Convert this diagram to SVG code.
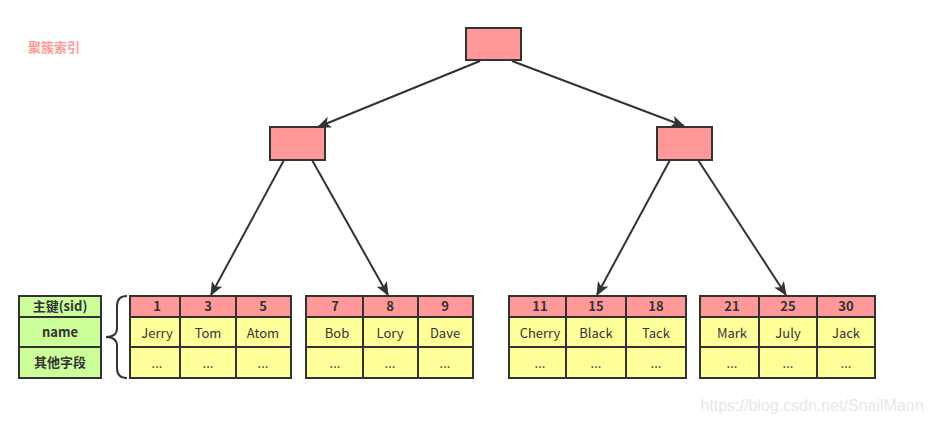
<svg xmlns="http://www.w3.org/2000/svg" width="932" height="423" viewBox="0 0 932 423">
<defs>
<marker id="ah" viewBox="0 0 12 10" refX="11" refY="5" markerWidth="7" markerHeight="6" markerUnits="strokeWidth" orient="auto">
<path d="M0,0 L12,5 L0,10 L3,5 Z" fill="#333"/>
</marker>
<style>
.box{fill:#FF9999;stroke:#333;stroke-width:2}
.hd{fill:#FF9999;stroke:#333;stroke-width:2}
.yl{fill:#FFFF99;stroke:#333;stroke-width:2}
.gr{fill:#CCFF99;stroke:#333;stroke-width:2}
.edge{stroke:#333;stroke-width:2;fill:none;marker-end:url(#ah)}
text{font-family:"Microsoft YaHei","Noto Sans CJK SC","Liberation Sans",sans-serif;fill:#333;text-anchor:middle;font-size:13px}
.b{font-weight:bold}
</style>
</defs>
<rect width="932" height="423" fill="#fff"/>
<text x="54" y="52" class="b" style="fill:#FF9999;font-size:13px">聚簇索引</text>
<g id="root"><rect class="box" x="466" y="28" width="55" height="32"/></g>
<g id="mid-left"><rect class="box" x="270" y="127" width="55" height="33"/></g>
<g id="mid-right"><rect class="box" x="657" y="127" width="55" height="33"/></g>
<g id="connectors">
<line class="edge" x1="480" y1="61" x2="318" y2="127"/>
<line class="edge" x1="512" y1="61" x2="684" y2="126"/>
<line class="edge" x1="284" y1="160" x2="211" y2="295"/>
<line class="edge" x1="312" y1="160" x2="388" y2="295"/>
<line class="edge" x1="670" y1="160" x2="597" y2="295"/>
<line class="edge" x1="698" y1="160" x2="786" y2="295"/>
</g>
<g id="legend">
<rect class="gr" x="19" y="296" width="82" height="21"/>
<rect class="gr" x="19" y="317" width="82" height="30"/>
<rect class="gr" x="19" y="347" width="82" height="31"/>
<text x="60" y="311" class="b">主键(sid)</text>
<text x="60" y="337" class="b">name</text>
<text x="60" y="367" class="b">其他字段</text>
<path d="M127,296 Q117,296 117,306 L117,328 Q117,337 106,337 Q117,337 117,346 L117,368 Q117,378 127,378" fill="none" stroke="#333" stroke-width="2"/>
</g>
<g id="leaf1">
<rect class="hd" x="130" y="296" width="50" height="21"/><rect class="hd" x="180" y="296" width="56" height="21"/><rect class="hd" x="236" y="296" width="55" height="21"/>
<rect class="yl" x="130" y="317" width="50" height="30"/><rect class="yl" x="180" y="317" width="56" height="30"/><rect class="yl" x="236" y="317" width="55" height="30"/>
<rect class="yl" x="130" y="347" width="50" height="31"/><rect class="yl" x="180" y="347" width="56" height="31"/><rect class="yl" x="236" y="347" width="55" height="31"/>
<text x="157" y="311" class="b">1</text><text x="208" y="311" class="b">3</text><text x="263" y="311" class="b">5</text>
<text x="157" y="338">Jerry</text><text x="208" y="338">Tom</text><text x="263" y="338">Atom</text>
<text x="157" y="368">...</text><text x="208" y="368">...</text><text x="263" y="368">...</text>
</g>
<g id="leaf2">
<rect class="hd" x="306" y="296" width="57" height="21"/><rect class="hd" x="363" y="296" width="55" height="21"/><rect class="hd" x="418" y="296" width="55" height="21"/>
<rect class="yl" x="306" y="317" width="57" height="30"/><rect class="yl" x="363" y="317" width="55" height="30"/><rect class="yl" x="418" y="317" width="55" height="30"/>
<rect class="yl" x="306" y="347" width="57" height="31"/><rect class="yl" x="363" y="347" width="55" height="31"/><rect class="yl" x="418" y="347" width="55" height="31"/>
<text x="335" y="311" class="b">7</text><text x="390" y="311" class="b">8</text><text x="445" y="311" class="b">9</text>
<text x="337" y="338">Bob</text><text x="390" y="338">Lory</text><text x="445" y="338">Dave</text>
<text x="335" y="368">...</text><text x="390" y="368">...</text><text x="445" y="368">...</text>
</g>
<g id="leaf3">
<rect class="hd" x="509" y="296" width="57" height="21"/><rect class="hd" x="566" y="296" width="60" height="21"/><rect class="hd" x="626" y="296" width="60" height="21"/>
<rect class="yl" x="509" y="317" width="57" height="30"/><rect class="yl" x="566" y="317" width="60" height="30"/><rect class="yl" x="626" y="317" width="60" height="30"/>
<rect class="yl" x="509" y="347" width="57" height="31"/><rect class="yl" x="566" y="347" width="60" height="31"/><rect class="yl" x="626" y="347" width="60" height="31"/>
<text x="540" y="311" class="b">11</text><text x="596" y="311" class="b">15</text><text x="656" y="311" class="b">18</text>
<text x="540" y="338">Cherry</text><text x="596" y="338">Black</text><text x="656" y="338">Tack</text>
<text x="540" y="368">...</text><text x="596" y="368">...</text><text x="656" y="368">...</text>
</g>
<g id="leaf4">
<rect class="hd" x="700" y="296" width="59" height="21"/><rect class="hd" x="759" y="296" width="58" height="21"/><rect class="hd" x="817" y="296" width="58" height="21"/>
<rect class="yl" x="700" y="317" width="59" height="30"/><rect class="yl" x="759" y="317" width="58" height="30"/><rect class="yl" x="817" y="317" width="58" height="30"/>
<rect class="yl" x="700" y="347" width="59" height="31"/><rect class="yl" x="759" y="347" width="58" height="31"/><rect class="yl" x="817" y="347" width="58" height="31"/>
<text x="732" y="311" class="b">21</text><text x="788" y="311" class="b">25</text><text x="846" y="311" class="b">30</text>
<text x="732" y="338">Mark</text><text x="788" y="338">July</text><text x="846" y="338">Jack</text>
<text x="732" y="368">...</text><text x="788" y="368">...</text><text x="846" y="368">...</text>
</g>
<text x="812" y="411" style="fill:#e8e8e8;font-size:16px;font-family:'Liberation Sans',Arial,sans-serif">https://blog.csdn.net/SnailMann</text>
</svg>
